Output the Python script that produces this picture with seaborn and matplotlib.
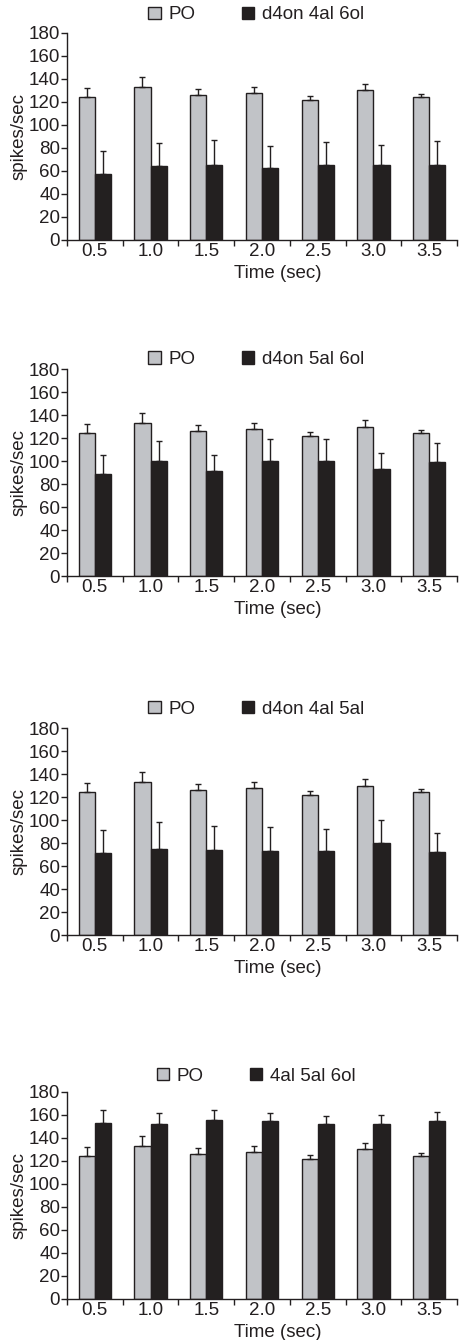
import numpy as np
import pandas as pd
import matplotlib
matplotlib.use("Agg")
import matplotlib.pyplot as plt
import seaborn as sns

sns.set_style("ticks")
plt.rcParams['font.family'] = ['Liberation Sans', 'DejaVu Sans']

# 数据
times = ['0.5', '1.0', '1.5', '2.0', '2.5', '3.0', '3.5']
po_mean = [124, 133, 126, 128, 122, 130, 124]
po_err = [8, 9, 5, 5, 3, 6, 3]

labels = ['d4on 4al 6ol', 'd4on 5al 6ol', 'd4on 4al 5al', '4al 5al 6ol']
mean1 = [57, 64, 65, 63, 65, 65, 65]
err1 = [20, 20, 22, 19, 20, 18, 21]
mean2 = [89, 100, 91, 100, 100, 93, 99]
err2 = [16, 17, 14, 19, 19, 14, 17]
mean3 = [71, 75, 74, 73, 73, 80, 72]
err3 = [20, 23, 21, 21, 19, 20, 17]
mean4 = [153, 152, 156, 155, 152, 152, 155]
err4 = [11, 10, 8, 7, 7, 8, 8]

means = [mean1, mean2, mean3, mean4]
errs = [err1, err2, err3, err4]

gray = '#c0c2c8'
dark = '#231f20'
fs = 13.5

# 每个子图的位置 (bottom) 和图例高度
bottoms = [0.8209, 0.5701, 0.3022, 0.0306]
leg_y = [1.087, 1.045, 1.091, 1.076]

fig = plt.figure(figsize=(4.62, 13.4), dpi=100)

for i in range(4):
    ax = fig.add_axes([0.145, bottoms[i], 0.844, 0.1545])
    df = pd.DataFrame({'time': times * 2,
                       'group': ['PO'] * 7 + [labels[i]] * 7,
                       'rate': po_mean + means[i]})
    sns.barplot(data=df, x='time', y='rate', hue='group',
                palette=[gray, dark], width=0.58, edgecolor=dark,
                linewidth=1, errorbar=None, ax=ax)
    # 误差线（只向上）
    for cont, e in zip(ax.containers, [po_err, errs[i]]):
        xs = [p.get_x() + p.get_width() / 2 for p in cont.patches]
        ys = [p.get_height() for p in cont.patches]
        ax.errorbar(xs, ys, yerr=[[0] * len(e), e], fmt='none',
                    ecolor=dark, elinewidth=1, capsize=2.5, capthick=1)
    ax.set_ylim(0, 180)
    ax.set_xlim(-0.5, 6.5)
    ax.set_yticks(range(0, 181, 20))
    ax.set_xticks(np.arange(-0.5, 7, 1), minor=True)
    ax.tick_params(axis='x', which='major', length=0, pad=2,
                   labelsize=fs, colors=dark)
    ax.tick_params(axis='x', which='minor', length=4, width=1, color=dark)
    ax.tick_params(axis='y', length=4, width=1, pad=1,
                   labelsize=fs, colors=dark)
    ax.set_ylabel('spikes/sec', fontsize=fs, color=dark, labelpad=1)
    ax.set_xlabel('Time (sec)', fontsize=fs, color=dark, labelpad=0)
    ax.xaxis.set_label_coords(0.54, -0.12)
    sns.despine(ax=ax)
    for s in ['left', 'bottom']:
        ax.spines[s].set_color(dark)
        ax.spines[s].set_linewidth(1)
    ax.legend(ncol=2, loc='center', bbox_to_anchor=(0.485, leg_y[i]),
              frameon=False, handlelength=0.65, handleheight=0.65,
              columnspacing=2.5, handletextpad=0.4, fontsize=fs,
              labelcolor=dark, borderaxespad=0)

fig.savefig('out.png', dpi=100, facecolor='white')
